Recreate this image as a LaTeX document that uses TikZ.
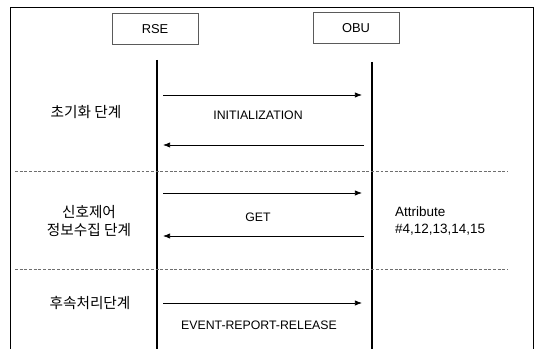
\documentclass[tikz,border=0pt]{standalone}
\usepackage{fontspec}
\setmainfont{Liberation Sans}
\newfontfamily\krfont{Noto Sans CJK KR}
\usepackage{tikz}
\usetikzlibrary{arrows.meta, positioning, calc}
\usepackage{xcolor}
\definecolor{boxgray}{RGB}{90,90,90}
\definecolor{dashgray}{RGB}{110,110,110}

\begin{document}
\begin{tikzpicture}[x=0.03cm, y=-0.03cm,
    entity/.style={draw=boxgray, line width=0.5pt, minimum width=86*0.03cm, minimum height=31*0.03cm, font=\fontsize{11}{13}\selectfont},
    lifeline/.style={line width=1.8pt},
    msg/.style={line width=0.6pt, -{Latex[length=6pt, width=4.5pt]}},
    phase/.style={font=\krfont\fontsize{12.5}{16}\selectfont, align=center},
    msglabel/.style={font=\fontsize{10.5}{12}\selectfont, align=left},
    divider/.style={dashgray, dashed, dash pattern=on 2.5pt off 1.5pt, line width=0.6pt}]
  \useasboundingbox (0,0) rectangle (535,349);
  % outer frame (bottom edge cut off)
  \draw[line width=0.8pt] (10.5,349) -- (10.5,7) -- (533,7) -- (533,349);
  % entities
  \node[entity] (rse) at (155,29) {RSE};
  \node[entity] (obu) at (356,28) {OBU};
  \coordinate (rseend) at (157,349);
  \coordinate (obuend) at (372,349);
  \draw[lifeline] (157,60) -- (rseend);
  \draw[lifeline] (372,62) -- (obuend);
  % phase dividers
  \draw[divider] (15,171) -- (508,171);
  \draw[divider] (15,269) -- (508,269);
  % message end points on the lifelines
  \coordinate (r1) at (163,95);  \coordinate (o1) at (362,95);
  \coordinate (r2) at (163,145); \coordinate (o2) at (364,145);
  \coordinate (r3) at (163,193); \coordinate (o3) at (362,193);
  \coordinate (r4) at (163,236); \coordinate (o4) at (364,236);
  \coordinate (r5) at (163,303); \coordinate (o5) at (362,303);
  \draw[msg] (r1) -- (o1);
  \draw[msg] (o2) -- (r2);
  \draw[msg] (r3) -- (o3);
  \draw[msg] (o4) -- (r4);
  \draw[msg] (r5) -- (o5);
  % labels
  \node[msglabel] (init) at (258,115) {INITIALIZATION};
  \node[msglabel] (get) at (258,217) {GET};
  \node[msglabel] (err) at (259,325) {EVENT-REPORT-RELEASE};
  \node[msglabel, anchor=west, font=\fontsize{11.5}{14}\selectfont] (attr) at (391,221) {Attribute\\\#4,12,13,14,15};
  \node[phase] (ph1) at (86,112) {초기화 단계};
  \node[phase] (ph2) at (89,221) {신호제어\\정보수집 단계};
  \node[phase] (ph3) at (90,303) {후속처리단계};
\end{tikzpicture}
\end{document}
